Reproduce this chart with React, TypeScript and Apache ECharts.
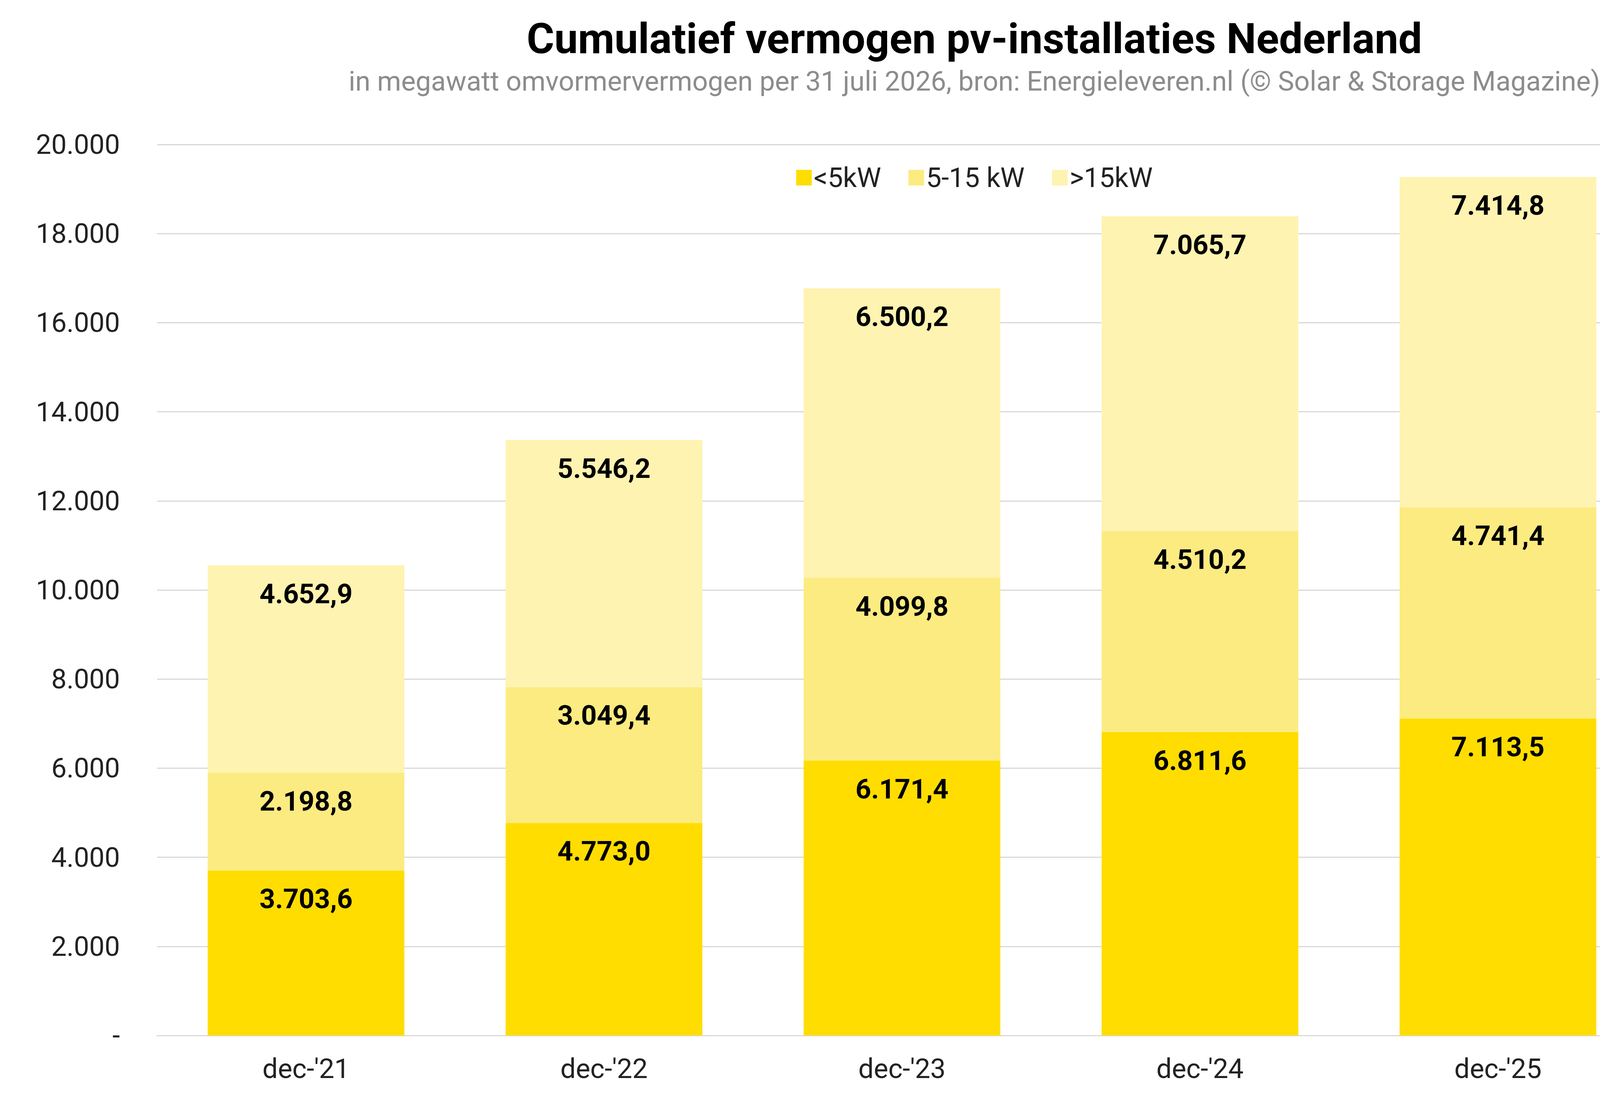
import React, { useEffect, useRef } from 'react';
import * as echarts from 'echarts';

const categories = ["dec-'21", "dec-'22", "dec-'23", "dec-'24", "dec-'25", "jul-'26"];
const small = [3703.6, 4773.0, 6171.4, 6811.6, 7113.5, 7227.0];
const medium = [2198.8, 3049.4, 4099.8, 4510.2, 4741.4, 4853.3];
const large = [4652.9, 5546.2, 6500.2, 7065.7, 7414.8, 7578.0];
const seriesNames = ['<5kW', '5-15 kW', '>15kW'];
const colors = ['#FFDD00', '#FCEB80', '#FEF3B0'];

const fmt = (v: number, dec: number) =>
  v.toLocaleString('nl-NL', { minimumFractionDigits: dec, maximumFractionDigits: dec });

const App: React.FC = () => {
  const chartRef = useRef<HTMLDivElement>(null);

  useEffect(() => {
    if (!chartRef.current) return;
    const chart = echarts.init(chartRef.current, null, { renderer: 'svg' });
    const data = [small, medium, large];
    chart.setOption({
      animation: false,
      textStyle: { fontFamily: 'Roboto' },
      title: {
        text: 'Cumulatief vermogen pv-installaties Nederland',
        subtext: 'in megawatt omvormervermogen per 31 juli 2026, bron: Energieleveren.nl (© Solar & Storage Magazine)',
        left: 'center',
        top: 40,
        itemGap: 20,
        textStyle: { fontSize: 108, fontWeight: 'bold', color: '#000' },
        subtextStyle: { fontSize: 70, color: '#8c8c8c' },
      },
      legend: {
        top: 415,
        left: 'center',
        itemWidth: 40,
        itemHeight: 40,
        itemGap: 70,
        icon: 'rect',
        textStyle: { fontSize: 70, color: '#222' },
        data: seriesNames,
      },
      grid: { left: 402, right: 10, top: 370, bottom: 155 },
      xAxis: {
        type: 'category',
        data: categories,
        axisTick: { show: false },
        axisLine: { lineStyle: { color: '#d9d9d9', width: 3 } },
        axisLabel: { fontSize: 70, color: '#222', margin: 50 },
      },
      yAxis: {
        type: 'value',
        min: 0,
        max: 20000,
        interval: 2000,
        splitLine: { lineStyle: { color: '#d9d9d9', width: 3 } },
        axisLabel: {
          fontSize: 70,
          color: '#222',
          margin: 95,
          formatter: (v: number) => (v === 0 ? '-' : fmt(v, 0)),
        },
      },
      series: seriesNames.map((name, i) => ({
        name,
        type: 'bar',
        stack: 'total',
        barWidth: '66%',
        itemStyle: { color: colors[i] },
        data: data[i],
        label: {
          show: true,
          position: 'insideTop',
          distance: 38,
          fontSize: 70,
          fontWeight: 'bold',
          color: '#000',
          formatter: (p: any) => fmt(p.value, 1),
        },
      })),
    });
    return () => chart.dispose();
  }, []);

  return (
    <div
      ref={chartRef}
      style={{ position: 'absolute', left: 0, top: 0, width: 4989, height: 2807, background: '#fff' }}
    />
  );
};

export default App;
